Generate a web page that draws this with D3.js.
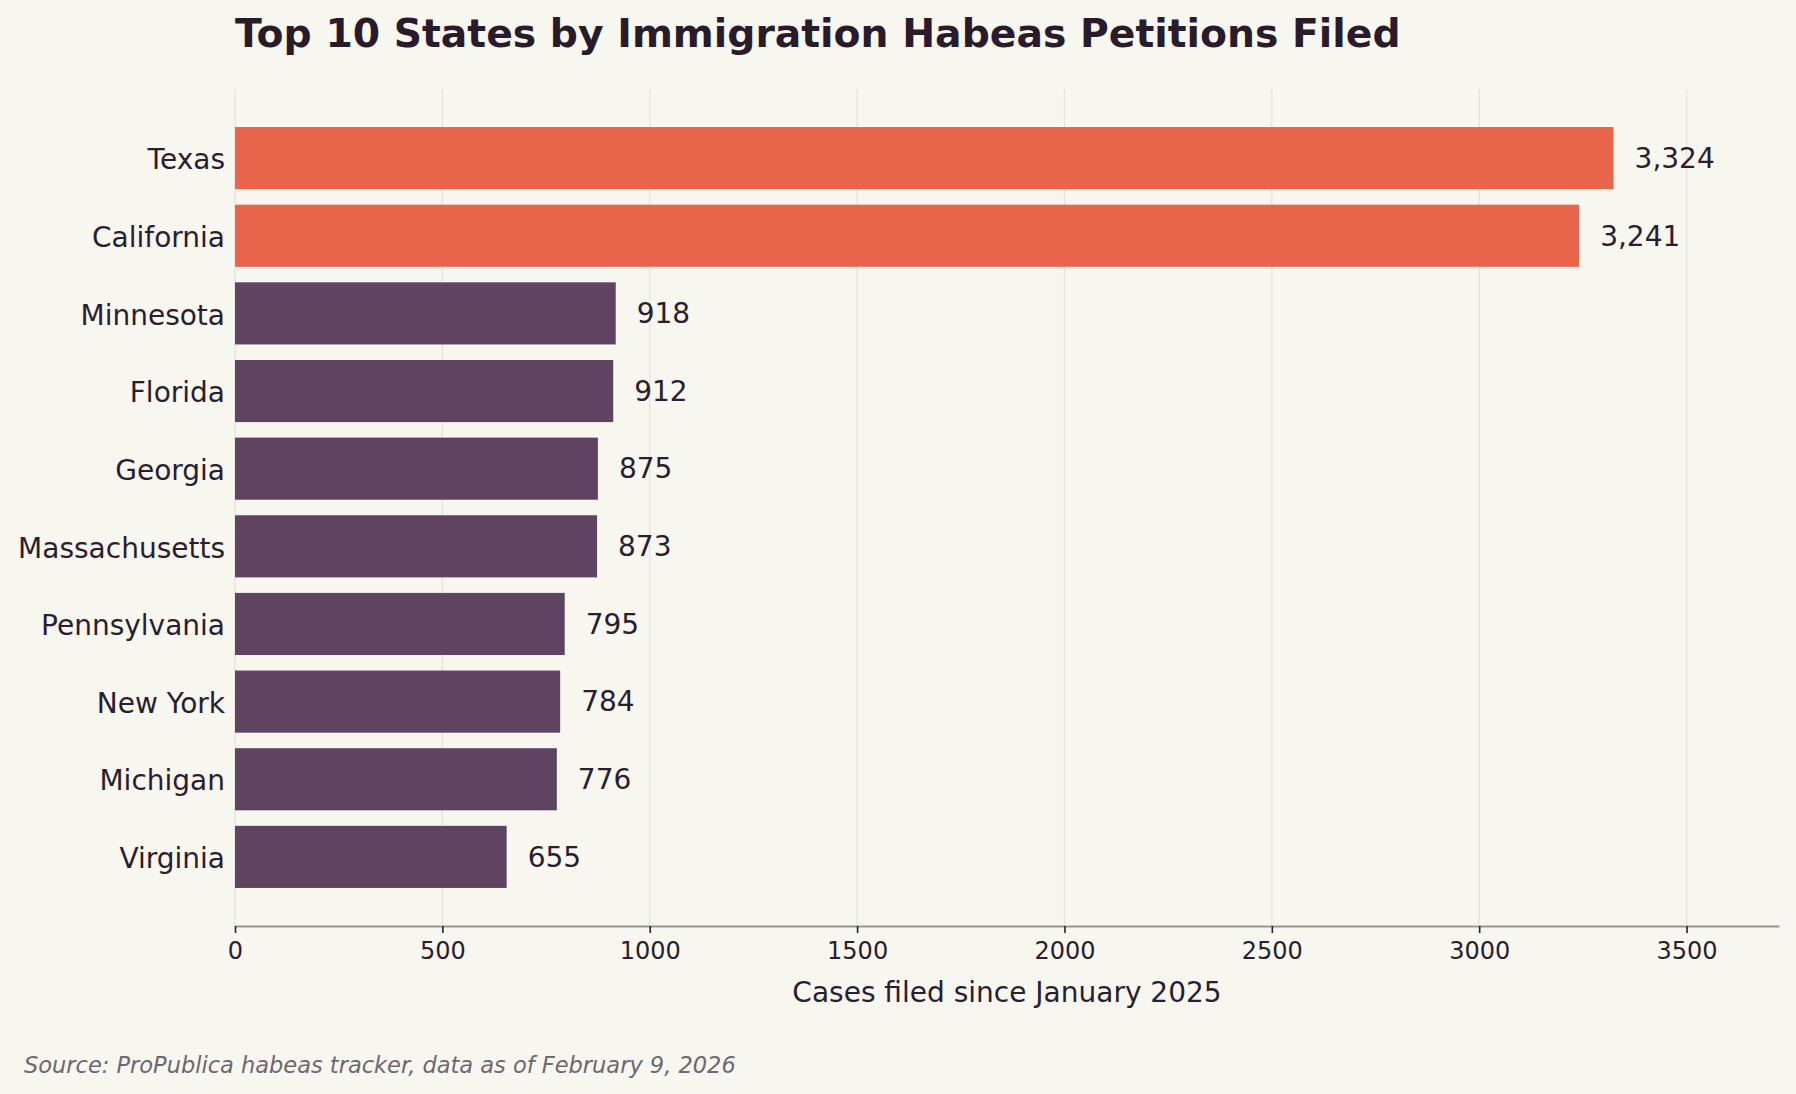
<!DOCTYPE html>
<html>
<head>
<meta charset="utf-8">
<script src="https://cdn.jsdelivr.net/npm/d3@7"></script>
<style>
  html, body { margin: 0; padding: 0; background: #f7f6ef; }
  svg { display: block; font-family: "DejaVu Sans", sans-serif; }
  .tick text { fill: #2b1d2e; }
</style>
</head>
<body>
<svg id="chart"></svg>
<script>
// data, top to bottom
var states = ["Texas", "California", "Minnesota", "Florida", "Georgia",
              "Massachusetts", "Pennsylvania", "New York", "Michigan", "Virginia"];
var cases = [3324, 3241, 918, 912, 875, 873, 795, 784, 776, 655];
var highlight = ["Texas", "California"];
var xTicks = [0, 500, 1000, 1500, 2000, 2500, 3000, 3500];

var width = 1796, height = 1094;
var margin = {top: 89, right: 17, bottom: 168, left: 235}; // plot box edges
var innerW = width - margin.left - margin.right;
var innerH = height - margin.top - margin.bottom;

var svg = d3.select("#chart").attr("width", width).attr("height", height);
svg.append("rect").attr("width", width).attr("height", height).attr("fill", "#f7f6ef");

var g = svg.append("g").attr("transform", "translate(" + margin.left + "," + margin.top + ")");

var rows = states.map(function(s, i) { return {state: s, value: cases[i]}; });

var x = d3.scaleLinear()
    .domain([0, d3.max(cases) * 1.12])
    .range([0, innerW]);

var y = d3.scaleBand()
    .domain(states)
    .range([0, innerH])
    .paddingInner(0.2)
    .paddingOuter(0.49);

/* gridlines */
g.append("g").selectAll("line")
    .data(xTicks)
    .enter().append("line")
    .attr("x1", function(d) { return x(d); })
    .attr("x2", function(d) { return x(d); })
    .attr("y1", 0)
    .attr("y2", innerH)
    .attr("stroke", "#e4e2da")
    .attr("stroke-width", 1.2);

/* bars */
g.append("g").selectAll("rect")
    .data(rows)
    .enter().append("rect")
    .attr("x", x(0))
    .attr("y", function(d) { return y(d.state); })
    .attr("width", function(d) { return x(d.value) - x(0); })
    .attr("height", y.bandwidth())
    .attr("fill", function(d) { return highlight.indexOf(d.state) >= 0 ? "#e8644a" : "#5f4462"; });

/* value labels */
g.append("g").selectAll("text")
    .data(rows)
    .enter().append("text")
    .attr("x", function(d) { return x(d.value) + 21; })
    .attr("y", function(d) { return y(d.state) + y.bandwidth() / 2; })
    .attr("dy", "0.35em")
    .attr("font-size", 28)
    .attr("fill", "#2b1d2e")
    .text(function(d) { return d3.format(",")(d.value); });

/* y labels */
var yAxis = g.append("g")
    .call(d3.axisLeft(y).tickSize(0).tickPadding(10));
yAxis.select(".domain").remove();
yAxis.selectAll("text").attr("font-size", 28).attr("font-family", "DejaVu Sans").attr("dy", "0.4em");

/* x axis */
var xAxis = g.append("g")
    .attr("transform", "translate(0," + innerH + ")")
    .call(d3.axisBottom(x).tickValues(xTicks).tickFormat(d3.format("d"))
        .tickSize(7).tickSizeOuter(0).tickPadding(9));
xAxis.select(".domain").attr("stroke", "#9a9598").attr("stroke-width", 2);
xAxis.selectAll(".tick line").attr("stroke", "#2b1d2e").attr("stroke-width", 1.6);
xAxis.selectAll("text").attr("font-size", 24).attr("font-family", "DejaVu Sans");

// axis title
svg.append("text")
    .attr("x", margin.left + innerW / 2)
    .attr("y", 1002)
    .attr("text-anchor", "middle")
    .attr("font-size", 28)
    .attr("fill", "#2b1d2e")
    .text("Cases filed since January 2025");

// title
svg.append("text")
    .attr("x", margin.left)
    .attr("y", 47)
    .attr("font-size", 39.3)
    .attr("font-weight", "bold")
    .attr("fill", "#2a1b2b")
    .text("Top 10 States by Immigration Habeas Petitions Filed");

// source
svg.append("text")
    .attr("x", 24)
    .attr("y", 1073)
    .attr("font-size", 22.5)
    .attr("font-style", "italic")
    .attr("fill", "#6f6670")
    .text("Source: ProPublica habeas tracker, data as of February 9, 2026");
</script>
</body>
</html>
